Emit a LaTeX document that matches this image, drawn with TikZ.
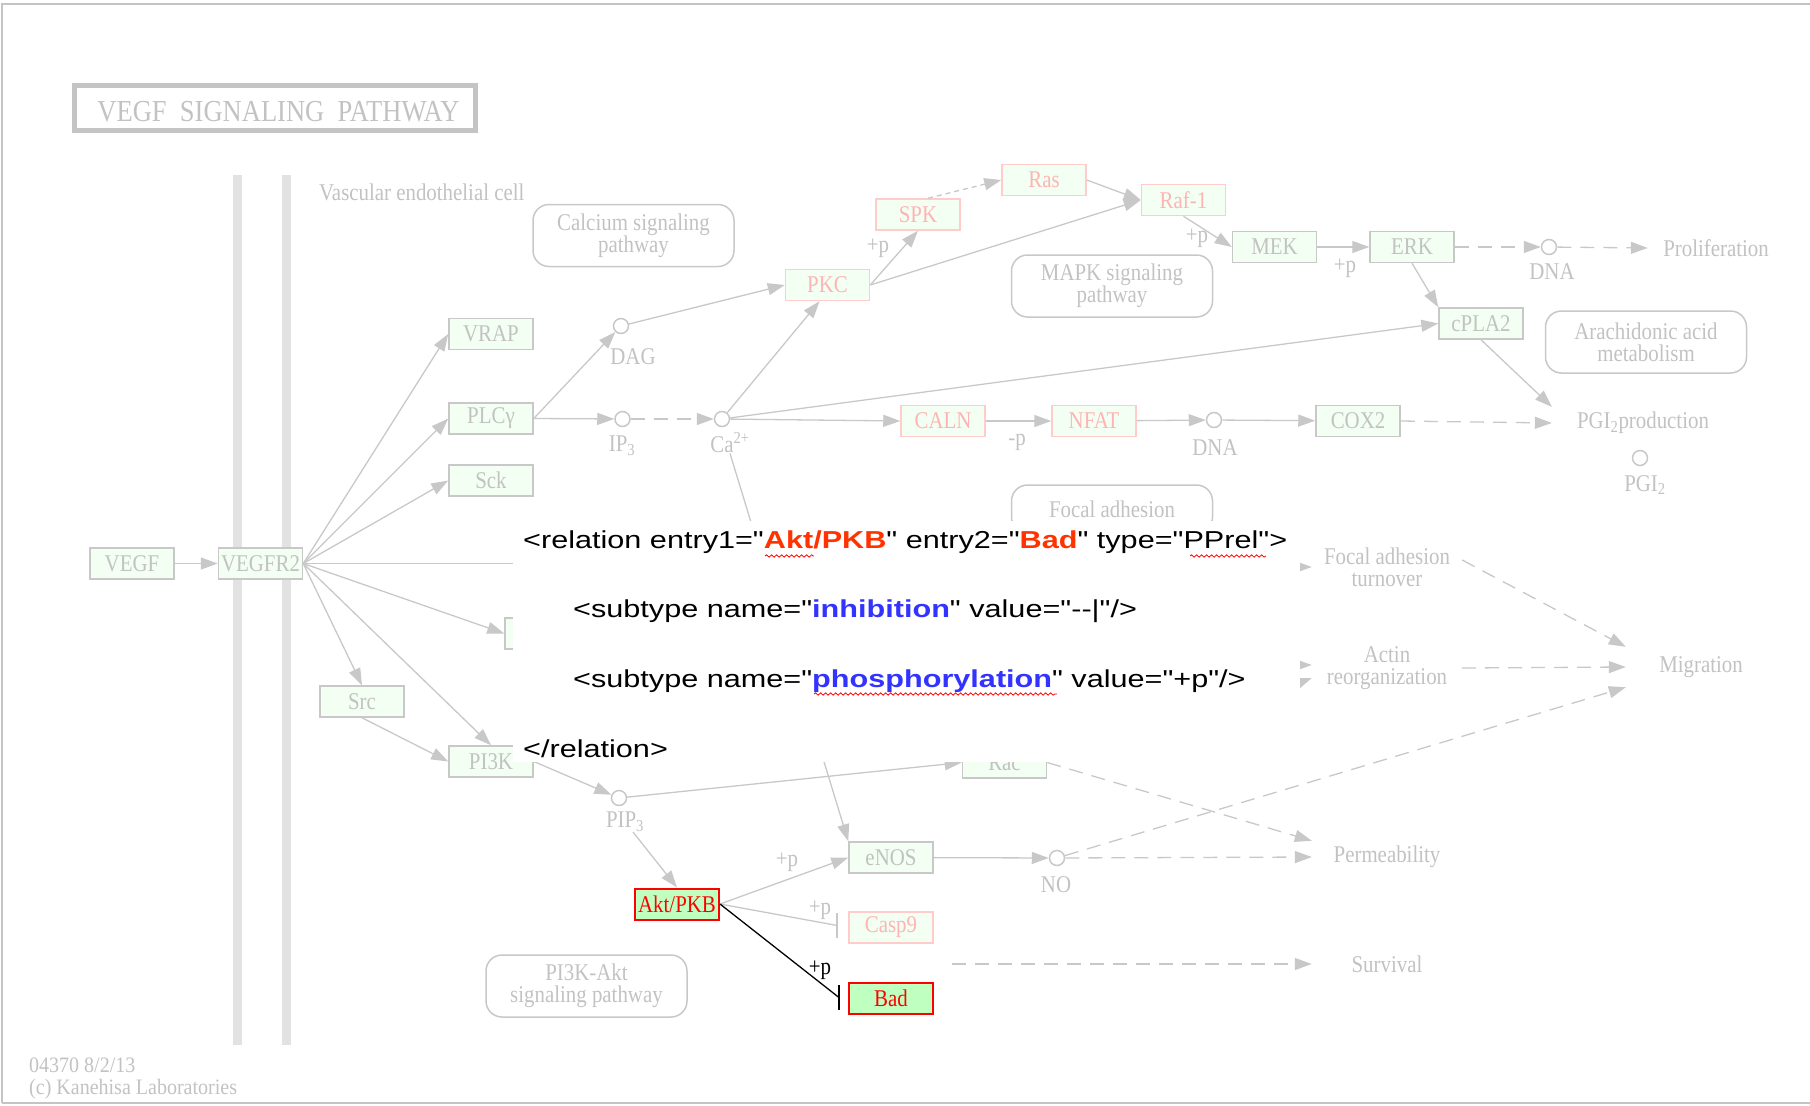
\documentclass[tikz,border=0pt]{standalone}
\usepackage{fontspec}
\usetikzlibrary{arrows.meta,calc,decorations.pathmorphing}
\newfontfamily\kfont[FakeStretch=0.87]{Liberation Serif}
\newfontfamily\ffont[FakeStretch=0.91]{Liberation Serif}
\newfontfamily\xmlfont[FakeStretch=1.25]{Liberation Sans}
\definecolor{kgray}{HTML}{C2C2C2}
\definecolor{kline}{HTML}{C8C8C8}
\definecolor{kfill}{HTML}{F2FFF2}
\definecolor{kpink}{HTML}{FFB4B4}
\definecolor{kpinkdraw}{HTML}{FFCCCC}
\definecolor{hlfill}{HTML}{BFFFBF}
\definecolor{xmlred}{HTML}{FF3300}
\definecolor{xmlblue}{HTML}{3333FF}
\definecolor{framecol}{HTML}{C4C4C4}
\definecolor{membr}{HTML}{E2E2E2}
\begin{document}
\begin{tikzpicture}[x=1bp,y=-1bp,
  kt/.style={font={\kfont\fontsize{24bp}{22bp}\selectfont}, text=kgray},
  gene/.style={kt, draw=kline, fill=kfill, line width=1.5bp, minimum width=84bp, minimum height=31bp, inner sep=0pt},
  pgene/.style={gene, draw=kpinkdraw, text=kpink},
  hgene/.style={gene, draw=red, fill=hlfill, text=red, line width=2bp},
  cpd/.style={circle, draw=kline, fill=white, line width=1.5bp, minimum size=15bp, inner sep=0pt},
  mapbox/.style={kt, draw=kline, line width=1.5bp, rounded corners=16bp, minimum width=201bp, minimum height=62bp, align=center, inner sep=0pt},
  lbl/.style={kt, inner sep=0pt},
  foot/.style={font={\ffont\fontsize{22bp}{22bp}\selectfont}, text=kgray, inner sep=0pt, anchor=west},
  pheno/.style={kt, align=center, inner sep=0pt, minimum height=32bp},
  link/.style={draw=kline, line width=1.3bp},
  arr/.style={link, -{Triangle[length=17bp,width=12bp]}},
  darr/.style={arr, dash pattern=on 14bp off 9bp},
  sdarr/.style={arr, dash pattern=on 5bp off 4bp},
  barline/.style={line width=1.6bp},
  xt/.style={font={\xmlfont\fontsize{24.5bp}{26bp}\selectfont}, text=black, inner sep=0pt, anchor=base west},
  squig/.style={draw=red, line width=0.8bp, decorate, decoration={snake, amplitude=1.2bp, segment length=5bp}}
]
\useasboundingbox (0,0) rectangle (1810,1105);

% membrane
\fill[membr] (232.5,175) rectangle (241.5,1045);
\fill[membr] (281.5,175) rectangle (290.5,1045);

% title
\draw[draw=framecol, line width=5bp] (74.5,85.5) rectangle (475.5,130.5);
\node[kt, font={\kfont\fontsize{30.5bp}{30bp}\selectfont}, inner sep=0pt] (title) at (278.5,111.5) {VEGF~~SIGNALING~~PATHWAY};
\node[lbl, anchor=west] (vec) at (319,192) {Vascular endothelial cell};

% genes
\node[gene] (VEGF) at (132,563.5) {VEGF};
\node[gene] (VEGFR2) at (260.5,563.5) {VEGFR2};
\node[gene] (VRAP) at (491,334) {VRAP};
\node[gene] (PLCg) at (491,418.5) {PLCγ};
\node[gene] (Sck) at (491,480.5) {Sck};
\node[gene] (Src) at (362,701.5) {Src};
\node[gene] (PI3K) at (491,761.5) {PI3K};
\node[gene] (hid) at (547,633.5) {};
\node[pgene] (PKC) at (827.5,285) {PKC};
\node[pgene] (SPK) at (918,214.5) {SPK};
\node[pgene] (Ras) at (1044,180) {Ras};
\node[pgene] (Raf) at (1183.5,200) {Raf-1};
\node[gene] (MEK) at (1274.5,247) {MEK};
\node[gene] (ERK) at (1412,247) {ERK};
\node[gene] (cPLA2) at (1481,323.5) {cPLA2};
\node[pgene] (CALN) at (943,421) {CALN};
\node[pgene] (NFAT) at (1094,421) {NFAT};
\node[gene] (COX2) at (1358,421) {COX2};
\node[hgene] (Akt) at (677,904) {Akt/PKB};
\node[gene] (eNOS) at (891,857.5) {eNOS};
\node[pgene] (Casp9) at (891,927.5) {Casp9};
\node[hgene] (Bad) at (891,998.5) {Bad};
\node[gene] (Rac) at (1004.5,762.5) {Rac};

% compounds
\node[cpd] (DAG) at (621,326) {};
\node[cpd] (IP3) at (622.5,419) {};
\node[cpd] (Ca) at (722,419) {};
\node[cpd] (DNAa) at (1214,420) {};
\node[cpd] (DNAb) at (1549,247) {};
\node[cpd] (PGI2) at (1640,458) {};
\node[cpd] (PIP3) at (619,798) {};
\node[cpd] (NO) at (1057,858) {};
\node[lbl] (DAGl) at (633,357) {DAG};
\node[lbl] (IP3l) at (622,446) {IP\textsubscript{3}};
\node[lbl] (Cal) at (730,443) {Ca\textsuperscript{2+}};
\node[lbl] (DNAal) at (1215,448) {DNA};
\node[lbl] (DNAbl) at (1552,272) {DNA};
\node[lbl] (PGI2l) at (1645,485) {PGI\textsubscript{2}};
\node[lbl] (PIP3l) at (625,822) {PIP\textsubscript{3}};
\node[lbl] (NOl) at (1056,885) {NO};

% map links
\node[mapbox] (calcium) at (633.5,235.5) {Calcium signaling\\pathway};
\node[mapbox] (mapk) at (1112,286) {MAPK signaling\\pathway};
\node[mapbox] (arach) at (1646,342) {Arachidonic acid\\metabolism};
\node[mapbox, minimum height=48bp] (focal) at (1112,509) {Focal adhesion};
\node[mapbox] (pi3kakt) at (586.5,986) {PI3K-Akt\\signaling pathway};

% phenotypes
\node[pheno, minimum width=136bp] (prolif) at (1716,248) {Proliferation};
\node[pheno, minimum width=182bp] (pgiprod) at (1643,423) {PGI\textsubscript{2}production};
\node[pheno, minimum width=150bp, minimum height=44bp] (fat) at (1387,567) {Focal adhesion\\turnover};
\node[pheno, minimum width=150bp, minimum height=44bp] (actin) at (1387,668) {Actin\\reorganization};
\node[pheno, minimum width=150bp, minimum height=40bp] (migr) at (1701,667) {Migration};
\node[pheno, minimum width=150bp] (perm) at (1387,857) {Permeability};
\node[pheno, minimum width=150bp] (surv) at (1387,964) {Survival};

% +p labels
\node[lbl] (p1) at (878,248) {+p};
\node[lbl] (p2) at (1197,238) {+p};
\node[lbl] (p3) at (1345,268) {+p};
\node[lbl] (p4) at (1017,442) {-p};
\node[lbl] (p5) at (787,862) {+p};
\node[lbl] (p6) at (820,910) {+p};
\node[lbl, text=black] (p7) at (820,970) {+p};

% free ends
\coordinate (hline) at (640,563.5);
\coordinate (survsrc) at (952,964);
\coordinate (fatsrc) at (1270,567);
\coordinate (actsrc1) at (1270,665);
\coordinate (actsrc2) at (1275,692);
\coordinate (casbar) at ([xshift=-11bp,yshift=2bp]Casp9.west);
\coordinate (badbar) at ([xshift=-9bp,yshift=1bp]Bad.west);

% connectors
\draw[arr] (VEGF) -- (VEGFR2);
\draw[arr] (VEGFR2.east) -- (VRAP.west);
\draw[arr] (VEGFR2.east) -- (PLCg.west);
\draw[arr] (VEGFR2.east) -- (Sck.west);
\draw[link] (VEGFR2.east) -- (hline);
\draw[arr] (VEGFR2.east) -- (hid.west);
\draw[arr] (VEGFR2.east) -- (Src.north);
\draw[arr] (VEGFR2.east) -- (PI3K.north);
\draw[arr] (Src.south) -- (PI3K.west);
\draw[arr] (PI3K.east) -- (PIP3);
\draw[arr] (PLCg.east) -- (IP3);
\draw[arr] (PLCg.east) -- (DAG);
\draw[arr] (DAG) -- (PKC.west);
\draw[darr] (IP3) -- (Ca);
\draw[arr] (Ca) -- ([xshift=-8bp]PKC.south);
\draw[arr] (Ca) -- (CALN.west);
\draw[arr] (Ca) -- (cPLA2.west);
\draw[arr] (Cal.south) -- (eNOS.north west);
\draw[arr] (CALN) -- (NFAT);
\draw[arr] (NFAT) -- (DNAa);
\draw[arr] (DNAa) -- (COX2);
\draw[darr] (COX2.east) -- (pgiprod.west);
\draw[arr] (PKC.east) -- (SPK.south);
\draw[arr] (PKC.east) -- (Raf.west);
\draw[sdarr] ([xshift=10bp]SPK.north) -- (Ras.west);
\draw[arr] (Ras.east) -- (Raf.west);
\draw[arr] (Raf.south) -- (MEK.west);
\draw[arr] (MEK) -- (ERK);
\draw[darr] (ERK) -- (DNAb);
\draw[darr] (DNAb) -- (prolif.west);
\draw[arr] (ERK.south) -- (cPLA2.north west);
\draw[arr] (cPLA2.south) -- (pgiprod.north west);
\draw[arr] ([xshift=8bp]PIP3l.south) -- (Akt.north);
\draw[arr] (PIP3) -- (Rac.west);
\draw[arr] (Akt.east) -- (eNOS.west);
\draw[link] (Akt.east) -- (casbar);
\draw[link, barline] ([yshift=12.5bp]casbar) -- ([yshift=-12.5bp]casbar);
\draw[black, line width=1.3bp] (Akt.east) -- (badbar);
\draw[black, barline] ([yshift=12.5bp]badbar) -- ([yshift=-12.5bp]badbar);
\draw[arr] (eNOS) -- (NO);
\draw[darr] (NO) -- (perm.west);
\draw[darr] (NO) -- (migr.south west);
\draw[darr] (Rac.east) -- (perm.north west);
\draw[darr] ([yshift=7bp]fat.east) -- (migr.north west);
\draw[darr] (actin.east) -- (migr.west);
\draw[darr] (survsrc) -- (surv.west);
\draw[arr] (fatsrc) -- (fat.west);
\draw[arr] (actsrc1) -- ([yshift=3bp]actin.west);
\draw[arr] (actsrc2) -- ([yshift=-10bp]actin.west);

% overlay with XML text
\fill[white] (513,521) rectangle (1300,762);
\node[xt] (x1) at (523,548) {<relation entry1="{\bfseries\color{xmlred}Akt/PKB}" entry2="{\bfseries\color{xmlred}Bad}" type="PPrel">};
\node[xt] (x2) at (573,617) {<subtype name="{\bfseries\color{xmlblue}inhibition}" value="-{}-|"/>};
\node[xt] (x3) at (573,687) {<subtype name="{\bfseries\color{xmlblue}phosphorylation}" value="+p"/>};
\node[xt] (x4) at (523,757) {</relation>};
\draw[squig] (765,556) -- (814,556);
\draw[squig] (1190,556) -- (1266,556);
\draw[squig] (814,694) -- (1057,694);

% footer
\node[foot] (foot1) at (29,1065) {04370 8/2/13};
\node[foot] (foot2) at (29,1089) {(c) Kanehisa Laboratories};

% frame
\draw[framecol, line width=2bp] (2,1103) -- (2,4) -- (1810,4);
\draw[framecol, line width=2bp] (2,1103) -- (1810,1103);
\end{tikzpicture}
\end{document}
